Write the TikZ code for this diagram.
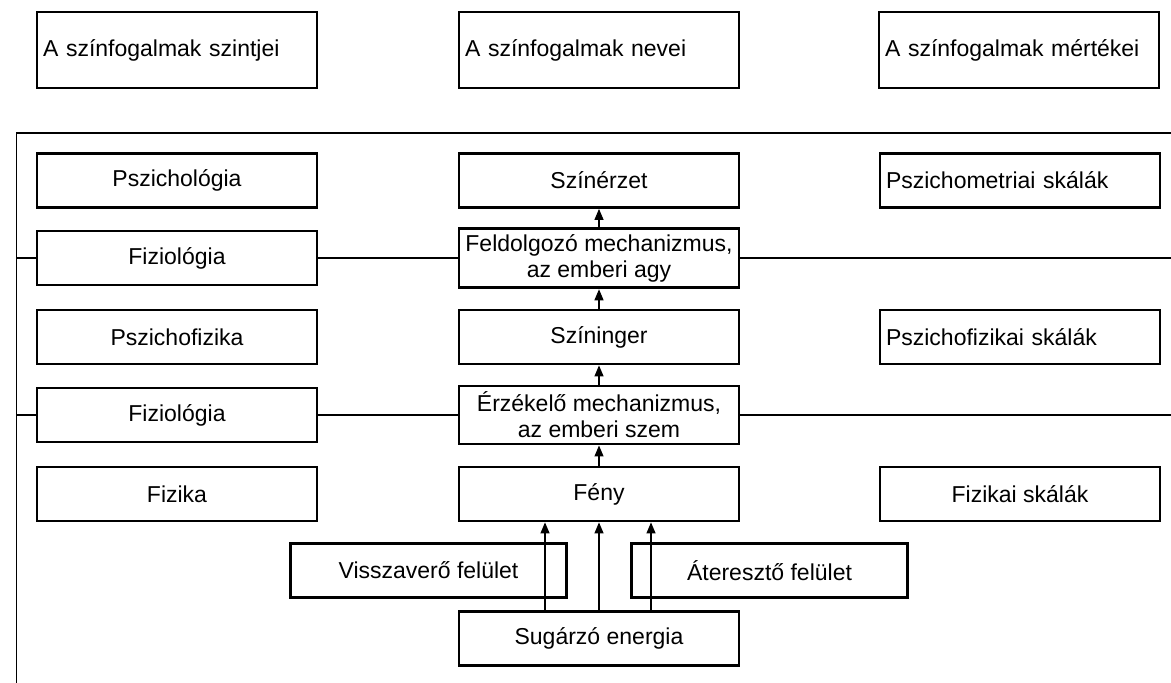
\documentclass[tikz,border=0pt]{standalone}
\usepackage{fontspec}
\setmainfont{Liberation Sans}
\usepackage{tikz}
\usetikzlibrary{arrows.meta}

\tikzset{
  box/.style = {draw, line width = 1.4pt, minimum width = 140pt, minimum height = 27pt, inner sep = 3pt},
  lbox/.style = {box, text width = 134pt, align = left},
  headbox/.style = {lbox, minimum height = 38pt},
  arr/.style = {-{Triangle[length = 5.5pt, width = 4.5pt]}, line width = 0.6pt},
  rule/.style = {line width = 0.7pt}
}

\begin{document}
\begin{tikzpicture}[x = 0.5pt, y = -0.5pt, font = \fontsize{11.5}{13}\selectfont]
        \useasboundingbox (0, 0) rectangle (1171, 683);
        % headings
        \node (hszint) at (177, 50) [headbox] {A színfogalmak szintjei};
        \node (hnev) at (599, 50) [headbox] {A színfogalmak nevei};
        \node (hmert) at (1019, 50) [headbox] {A színfogalmak mértékei};
        % frame
        \coordinate (fa) at (16.5, 683);
        \coordinate (fb) at (16.5, 133);
        \coordinate (fc) at (1171, 133);
        \draw [rule] (fa) -- (fb) -- (fc);
        % levels
        \node (pszi) at (177, 180.5) [box] {Pszichológia};
        \node (fiz1) at (177, 258) [box] {Fiziológia};
        \node (pfiz) at (177, 337) [box] {Pszichofizika};
        \node (fiz2) at (177, 415) [box] {Fiziológia};
        \node (fizi) at (177, 494) [box] {Fizika};
        % names
        \node (szin) at (599, 180.5) [box] {Színérzet};
        \node (agy) at (599, 258) [box, align = center] {Feldolgozó mechanizmus,\\az emberi agy};
        \node (inger) at (599, 337) [box] {Színinger};
        \node (szem) at (599, 415) [box, align = center] {Érzékelő mechanizmus,\\az emberi szem};
        \node (feny) at (599, 494) [box] {Fény};
        \node (visz) at (428.5, 570.5) [box, minimum width = 138pt] {Visszaverő felület};
        \node (ater) at (769.5, 570.5) [box, minimum width = 138pt] {Áteresztő felület};
        \node (sug) at (599, 638.5) [box] {Sugárzó energia};
        % measures
        \node (pmet) at (1020, 180.5) [lbox] {Pszichometriai skálák};
        \node (pfsk) at (1020, 337) [lbox] {Pszichofizikai skálák};
        \node (fsk) at (1020, 494) [box] {Fizikai skálák};
        % level rules
        \coordinate (l1) at (16.5, 258);
        \coordinate (r1) at (1171, 258);
        \coordinate (l2) at (16.5, 415);
        \coordinate (r2) at (1171, 415);
        \draw [rule] (l1) edge (fiz1);
        \draw [rule] (fiz1) edge (agy);
        \draw [rule] (agy) edge (r1);
        \draw [rule] (l2) edge (fiz2);
        \draw [rule] (fiz2) edge (szem);
        \draw [rule] (szem) edge (r2);
        % arrows
        \draw [arr] (agy) edge (szin);
        \draw [arr] (inger) edge (agy);
        \draw [arr] (szem) edge (inger);
        \draw [arr] (feny) edge (szem);
        \draw [arr] ([xshift = -27pt]sug.north) -- ([xshift = -27pt]feny.south);
        \draw [arr] (sug) edge (feny);
        \draw [arr] ([xshift = 26pt]sug.north) -- ([xshift = 26pt]feny.south);
    \end{tikzpicture}
\end{document}
